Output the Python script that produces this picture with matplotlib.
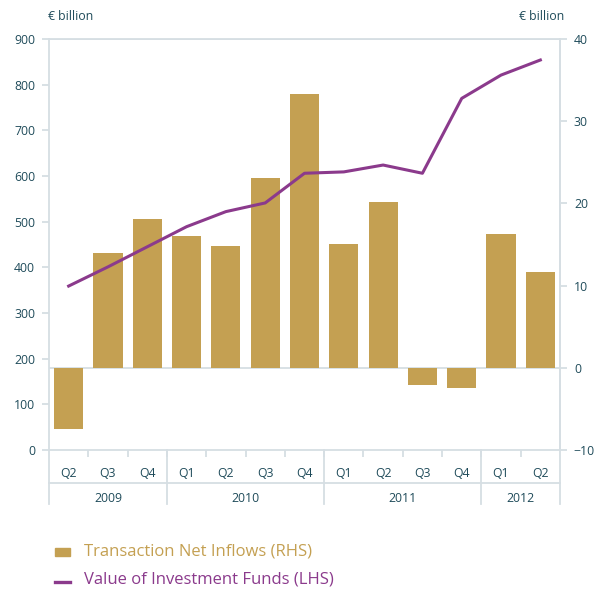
import matplotlib
matplotlib.use("Agg")
import matplotlib.pyplot as plt
from matplotlib.patches import Rectangle
from matplotlib.lines import Line2D
import numpy as np

plt.rcParams['font.family'] = ['Open Sans', 'DejaVu Sans']

quarters = ["Q2", "Q3", "Q4", "Q1", "Q2", "Q3", "Q4", "Q1", "Q2", "Q3", "Q4", "Q1", "Q2"]
years = ["2009", "2010", "2011", "2012"]
year_counts = [3, 4, 4, 2]
net_inflows = [-7.5, 14.0, 18.1, 16.0, 14.8, 23.1, 33.3, 15.1, 20.2, -2.1, -2.4, 16.3, 11.7]
fund_value = [359, 401, 445, 489, 522, 541, 606, 609, 624, 606, 770, 821, 854]

BAR = "#C4A052"
LINE = "#8B3A8C"
TXT = "#1F4B5A"
GRID = "#D6DEE3"

fig = plt.figure(figsize=(6.04, 5.90), dpi=100)
ax = fig.add_axes([49/604, 1-450/590, 511/604, 411/590])
ax2 = ax.twinx()

x = np.arange(len(quarters))
ax2.bar(x, net_inflows, width=0.74, color=BAR, zorder=2)
ax2.axhline(0, color=GRID, lw=1.3, zorder=1)
ax.plot(x, fund_value, color=LINE, lw=2.2, zorder=3)
ax.set_zorder(ax2.get_zorder() + 1)
ax.patch.set_visible(False)

ax.set_xlim(-0.5, len(quarters) - 0.5)
ax.set_ylim(0, 900)
ax2.set_ylim(-10, 40)
ax.set_yticks(np.arange(0, 901, 100))
ax2.set_yticks(np.arange(-10, 41, 10))

for a in (ax, ax2):
    for s in a.spines.values():
        s.set_color(GRID)
        s.set_linewidth(1.3)
    a.tick_params(axis='y', colors=GRID, labelcolor=TXT, labelsize=8.8, length=5, width=1.3, pad=5)
ax2.spines['left'].set_visible(False)
ax2.spines['bottom'].set_visible(False)
ax2.spines['top'].set_visible(False)

ax.set_xticks(x, quarters)
ax.set_xticks(np.arange(0.5, len(quarters) - 0.5, 1), minor=True)
ax.tick_params(axis='x', which='major', length=0, pad=12, labelsize=8.8, labelcolor=TXT)
ax.tick_params(axis='x', which='minor', length=5, width=1.3, color=GRID, direction='out')
ax2.tick_params(axis='x', length=0)

# top line spanning ticks
ax.axhline(900, color=GRID, lw=1.3, zorder=0)

# year boxes below axis
tr = ax.get_xaxis_transform()
h_sep = -33/411
y_end = -54/411
ax.plot([-0.5, len(quarters) - 0.5], [h_sep, h_sep], transform=tr, color=GRID, lw=1.3, clip_on=False)
start = -0.5
bounds = [start]
for yr, n in zip(years, year_counts):
    end = start + n
    ax.text((start + end) / 2, -48/411, yr, transform=tr, ha='center', va='center', fontsize=8.8, color=TXT)
    bounds.append(end)
    start = end
for b in bounds:
    ax.plot([b, b], [0, y_end], transform=tr, color=GRID, lw=1.3, clip_on=False)

fig.text(48/604, 1-17/590, "€ billion", ha='left', va='center', fontsize=8.8, color=TXT)
fig.text(564/604, 1-17/590, "€ billion", ha='right', va='center', fontsize=8.8, color=TXT)

# legend
fig.add_artist(Rectangle((55/604, 1-556/590), 15/604, 8/590, transform=fig.transFigure, color=BAR))
fig.add_artist(Line2D([55/604, 70/604], [1-582/590, 1-582/590], transform=fig.transFigure, color=LINE, lw=2.4))
fig.text(84/604, 1-551/590, "Transaction Net Inflows (RHS)", ha='left', va='center', fontsize=12, color=BAR)
fig.text(84/604, 1-580/590, "Value of Investment Funds (LHS)", ha='left', va='center', fontsize=12, color=LINE)

fig.savefig("out.png", dpi=100)
